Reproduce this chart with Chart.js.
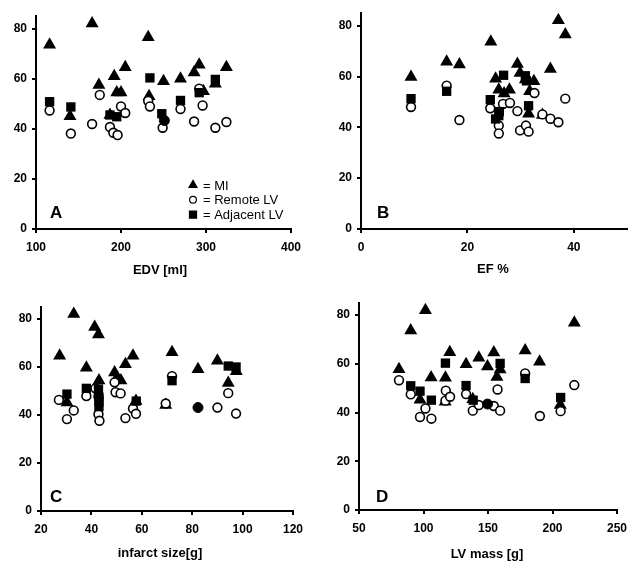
<!DOCTYPE html>
<html>
<head>
<meta charset="utf-8">
<script src="https://cdn.jsdelivr.net/npm/chart.js@4/dist/chart.umd.min.js"></script>
<style>
  html, body { margin: 0; padding: 0; background: #fff; }
  #panels { width: 640px; height: 573px; display: grid; grid-template-columns: 320px 320px; grid-template-rows: 287px 286px; }
  canvas { display: block; }
</style>
</head>
<body>
<div id="panels">
  <canvas id="panel-a" width="320" height="287"></canvas>
  <canvas id="panel-b" width="320" height="287"></canvas>
  <canvas id="panel-c" width="320" height="286"></canvas>
  <canvas id="panel-d" width="320" height="286"></canvas>
</div>
<script>
// Four scatter panels: MI / remote LV / adjacent LV values against
// EDV, EF, infarct size and LV mass. "Both" = remote and adjacent coincide.

const FONT = "'Liberation Sans', Arial, sans-serif";

// A: EDV [ml]
const edvMI = [[116,73.5],[166,82],[232,76.5],[174,57.5],[192,61],[205,64.5],[195,54.5],[200,54.5],[140,45],[187,45.5],[233,53],[250,59],[270,60],[286,62.5],[292,65.5],[297,55],[311,58],[324,64.5]];
const edvRemote = [[116,47.3],[141,38.1],[166,41.9],[175,53.5],[187,40.7],[191,38.4],[196,37.5],[200,48.9],[205,46.3],[232,51.1],[234,48.9],[249,40.4],[270,47.9],[286,42.9],[292,56],[296,49.3],[311,40.4],[324,42.7]];
const edvAdjacent = [[116,50.8],[141,48.7],[187,45.5],[195,44.8],[234,60.3],[248,46],[270,51.3],[292,54.4],[311,59.7]];
const edvBoth = [[251,43.3]];

// B: EF %
const efMI = [[9.4,59.8],[16.1,65.8],[18.5,64.7],[24.4,73.7],[25.3,59.1],[25.9,54.8],[26.9,53.3],[27.9,54.8],[29.4,64.9],[29.9,61.4],[30.9,58.8],[31.7,54.2],[32.5,58.1],[31.5,45.4],[34.1,44.9],[35.6,63],[37.1,82.1],[38.4,76.5]];
const efRemote = [[9.4,48],[16.1,56.4],[18.5,42.9],[24.3,47.5],[25.9,40.7],[25.9,37.6],[26.7,49.2],[28,49.6],[29.4,46.4],[29.9,38.8],[31,40.7],[31.5,38.3],[32.6,53.5],[34.1,45.1],[35.6,43.4],[37.1,42],[38.4,51.3]];
const efAdjacent = [[9.4,51.3],[16.1,54.2],[24.3,50.9],[25.3,43.3],[25.9,44.6],[26,46.2],[26.8,60.5],[30.9,60.3],[31.1,58.3],[31.5,48.5]];
const efBoth = [];

// C: infarct size [g]
const infMI = [[27.4,64.7],[33,82.1],[41.3,76.7],[42.8,73.5],[38,59.7],[43,54.4],[30.3,45.2],[49.2,57.7],[49.9,55],[51.7,54.4],[53.5,61.1],[56.5,64.7],[57.7,45.8],[69.5,44.2],[72,66.1],[82.3,59.1],[90,62.6],[94.3,53.3],[97.5,58.2]];
const infRemote = [[27.1,46.3],[30.3,38.3],[33,41.9],[38,47.9],[41.6,51.1],[42.8,47.7],[42.8,40.3],[43.2,37.6],[49.2,53.6],[49.6,49.5],[51.6,49],[53.5,38.7],[56.5,42.7],[57.7,40.5],[69.5,44.8],[72,56.2],[90,43.1],[94.3,49.1],[97.4,40.6]];
const infAdjacent = [[30.3,48.7],[38,51.1],[42.8,50.8],[43,47.4],[43,45.5],[43,43.5],[57.8,45.8],[72,54.3],[94.3,60.4],[97.4,60]];
const infBoth = [[82.3,43.1]];

// D: LV mass [g]
const massMI = [[81,57.8],[90.1,73.7],[101.5,82],[97.3,45.3],[105.9,54.4],[117,54.3],[116.8,44.4],[120.4,64.8],[133,59.8],[142.9,62.5],[138.2,45.5],[149.6,58.9],[154.5,64.7],[156.9,54.6],[159.4,57.7],[178.8,65.5],[190,60.9],[206,43.1],[216.9,76.9]];
const massRemote = [[81,53.3],[90.1,47.5],[97.3,38.2],[101.5,41.7],[106.1,37.5],[117.3,49],[117,44.9],[120.6,46.5],[133,47.6],[138.2,40.8],[142.9,43.1],[154.5,42.7],[157.4,49.5],[159.4,40.8],[178.8,56.1],[190.2,38.6],[206.3,40.6],[216.9,51.3]];
const massAdjacent = [[90.1,51],[97.3,48.8],[106.1,45.1],[117,60.3],[133,51.1],[138.5,45.1],[159.4,60.2],[178.8,54],[206.3,46.2]];
const massBoth = [[149.6,43.5]];

const SERIES_LABELS = ["= MI", "= Remote LV", "= Adjacent LV"];

const pts = arr => arr.map(([x, y]) => ({ x, y }));

// letter, axis title and (panel A only) the legend
const panelText = {
  id: "panelText",
  afterDraw(chart, args, o) {
    const { ctx, chartArea } = chart;
    ctx.save();
    ctx.fillStyle = "#000";
    ctx.font = `bold 17px ${FONT}`;
    ctx.textAlign = "left";
    ctx.textBaseline = "alphabetic";
    ctx.fillText(o.letter, o.letterX, o.letterY);

    ctx.font = `bold 13px ${FONT}`;
    ctx.textAlign = "center";
    ctx.textBaseline = "middle";
    ctx.fillText(o.title, o.titleX, o.titleY);

    if (o.legend) {
      const marks = [
        { pointStyle: "triangle", radius: 4.6, fill: "#000" },
        { pointStyle: "circle", radius: 3.4, fill: "#fff" },
        { pointStyle: "rect", radius: 5, fill: "#000" },
      ];
      ctx.font = `13px ${FONT}`;
      ctx.textAlign = "left";
      SERIES_LABELS.forEach((txt, i) => {
        const y = o.legendY + i * o.legendGap;
        const m = marks[i];
        ctx.fillStyle = m.fill;
        ctx.strokeStyle = "#000";
        ctx.lineWidth = 1.2;
        Chart.helpers.drawPoint(ctx, { pointStyle: m.pointStyle, radius: m.radius, borderWidth: 1.2, rotation: 0 }, o.legendX, y);
        ctx.fillStyle = "#000";
        ctx.fillText(txt, o.legendX + 10, y + 1);
      });
    }
    ctx.restore();
  },
};

function datasets(mi, remote, adjacent, both) {
  return [
    { label: SERIES_LABELS[0], data: pts(mi), pointStyle: "triangle", pointRadius: 7.5, backgroundColor: "#000", borderColor: "#000", borderWidth: 0, order: 3 },
    { label: SERIES_LABELS[1], data: pts(remote), pointStyle: "circle", pointRadius: 4.4, backgroundColor: "#fff", borderColor: "#000", borderWidth: 1.6, order: 2 },
    { label: SERIES_LABELS[2], data: pts(adjacent), pointStyle: "rect", pointRadius: 6.6, backgroundColor: "#000", borderColor: "#000", borderWidth: 0, order: 1 },
    { label: "both", data: pts(both), pointStyle: "circle", pointRadius: 5, backgroundColor: "#000", borderColor: "#000", borderWidth: 1, order: 0 },
  ];
}

function opciones(p) {
  const tickFont = { family: FONT, size: 12, weight: "bold" };
  const grid = { drawOnChartArea: false, drawTicks: true, tickLength: 4, lineWidth: 2, color: "#000" };
  const border = { display: true, color: "#000", width: 2 };
  return {
    responsive: false,
    animation: false,
    layout: { padding: { top: p.top, right: 320 - p.right, left: 0, bottom: 0 } },
    plugins: {
      legend: { display: false },
      tooltip: { enabled: false },
      panelText: p.text,
    },
    scales: {
      x: {
        type: "linear", min: p.xMin, max: p.xMax,
        ticks: { stepSize: p.xStep, includeBounds: false, color: "#000", font: tickFont, padding: 7, maxRotation: 0 },
        grid, border,
        afterFit: s => { s.height = p.h - p.bottom; },
      },
      y: {
        min: 0, max: 85,
        ticks: { stepSize: 20, includeBounds: false, color: "#000", font: tickFont, padding: 5 },
        grid, border,
        afterFit: s => { s.width = p.left; },
      },
    },
  };
}

function crearPanel(id, data, p) {
  new Chart(document.getElementById(id), {
    type: "scatter",
    data: { datasets: data },
    options: opciones(p),
    plugins: [panelText],
  });
}

crearPanel("panel-a", datasets(edvMI, edvRemote, edvAdjacent, edvBoth), {
  h: 287, left: 36, right: 291, top: 16, bottom: 229, xMin: 100, xMax: 400, xStep: 100,
  text: { letter: "A", letterX: 50, letterY: 218, title: "EDV [ml]", titleX: 160, titleY: 270, legend: true, legendX: 193, legendY: 185, legendGap: 14.8 },
});
crearPanel("panel-b", datasets(efMI, efRemote, efAdjacent, efBoth), {
  h: 287, left: 41, right: 307, top: 13, bottom: 229, xMin: 0, xMax: 50, xStep: 20,
  text: { letter: "B", letterX: 57, letterY: 218, title: "EF %", titleX: 173, titleY: 269 },
});
crearPanel("panel-c", datasets(infMI, infRemote, infAdjacent, infBoth), {
  h: 286, left: 41, right: 293, top: 20, bottom: 224, xMin: 20, xMax: 120, xStep: 20,
  text: { letter: "C", letterX: 50, letterY: 215, title: "infarct size[g]", titleX: 160, titleY: 266 },
});
crearPanel("panel-d", datasets(massMI, massRemote, massAdjacent, massBoth), {
  h: 286, left: 39, right: 297, top: 16, bottom: 223, xMin: 50, xMax: 250, xStep: 50,
  text: { letter: "D", letterX: 56, letterY: 215, title: "LV mass [g]", titleX: 167, titleY: 267 },
});
</script>
</body>
</html>
